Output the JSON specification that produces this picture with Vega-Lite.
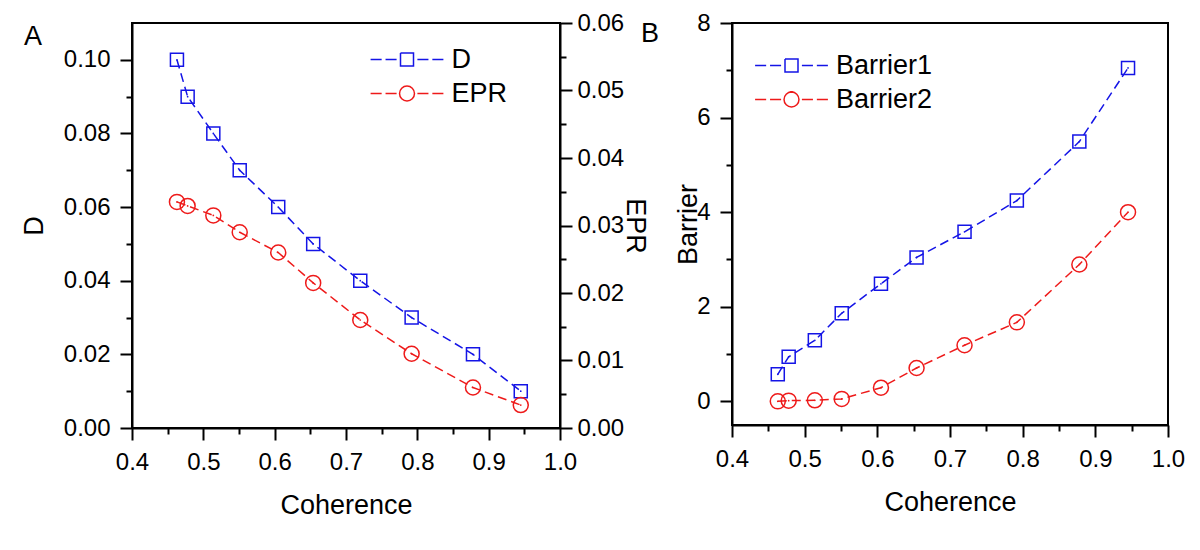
{
  "$schema": "https://vega.github.io/schema/vega-lite/v6.json",
  "padding": {"left": 19, "top": 10, "right": 5, "bottom": 5},
  "bounds": "flush",
  "spacing": 172,
  "config": {
    "font": "Liberation Sans",
    "view": {"stroke": "black", "strokeWidth": 2},
    "axis": {
      "grid": false, "domainColor": "black", "domainWidth": 2, "tickColor": "black", "tickWidth": 2,
      "labelFontSize": 24, "labelColor": "black", "labelFont": "Liberation Sans", "labelFlush": false, "labelOverlap": false,
      "titleFontSize": 27, "titleFontWeight": "normal", "titleColor": "black", "titleFont": "Liberation Sans"
    },
    "legend": {
      "labelFontSize": 27, "labelColor": "black", "labelFont": "Liberation Sans", "symbolStrokeWidth": 1.5,
      "rowPadding": 6, "labelOffset": 31, "symbolSize": 169, "symbolFillColor": "transparent"
    },
    "title": {"font": "Liberation Sans", "fontSize": 27, "fontWeight": "normal", "color": "black"}
  },
  "data": {"values": [
    {"c": 0.463, "series": "D", "value": 0.10},
    {"c": 0.478, "series": "D", "value": 0.09},
    {"c": 0.514, "series": "D", "value": 0.08},
    {"c": 0.551, "series": "D", "value": 0.07},
    {"c": 0.605, "series": "D", "value": 0.06},
    {"c": 0.654, "series": "D", "value": 0.05},
    {"c": 0.720, "series": "D", "value": 0.04},
    {"c": 0.792, "series": "D", "value": 0.03},
    {"c": 0.878, "series": "D", "value": 0.02},
    {"c": 0.945, "series": "D", "value": 0.01},
    {"c": 0.463, "series": "EPR", "value": 0.0335},
    {"c": 0.478, "series": "EPR", "value": 0.0329},
    {"c": 0.514, "series": "EPR", "value": 0.0315},
    {"c": 0.551, "series": "EPR", "value": 0.0290},
    {"c": 0.605, "series": "EPR", "value": 0.0260},
    {"c": 0.654, "series": "EPR", "value": 0.0215},
    {"c": 0.720, "series": "EPR", "value": 0.0160},
    {"c": 0.792, "series": "EPR", "value": 0.0110},
    {"c": 0.878, "series": "EPR", "value": 0.0060},
    {"c": 0.945, "series": "EPR", "value": 0.0034},
    {"c": 0.463, "series": "Barrier1", "value": 0.571},
    {"c": 0.478, "series": "Barrier1", "value": 0.942},
    {"c": 0.514, "series": "Barrier1", "value": 1.291},
    {"c": 0.551, "series": "Barrier1", "value": 1.863},
    {"c": 0.605, "series": "Barrier1", "value": 2.486},
    {"c": 0.654, "series": "Barrier1", "value": 3.043},
    {"c": 0.720, "series": "Barrier1", "value": 3.584},
    {"c": 0.792, "series": "Barrier1", "value": 4.245},
    {"c": 0.878, "series": "Barrier1", "value": 5.492},
    {"c": 0.945, "series": "Barrier1", "value": 7.05},
    {"c": 0.463, "series": "Barrier2", "value": 0.0},
    {"c": 0.478, "series": "Barrier2", "value": 0.015},
    {"c": 0.514, "series": "Barrier2", "value": 0.022},
    {"c": 0.551, "series": "Barrier2", "value": 0.052},
    {"c": 0.605, "series": "Barrier2", "value": 0.289},
    {"c": 0.654, "series": "Barrier2", "value": 0.705},
    {"c": 0.720, "series": "Barrier2", "value": 1.187},
    {"c": 0.792, "series": "Barrier2", "value": 1.67},
    {"c": 0.878, "series": "Barrier2", "value": 2.894},
    {"c": 0.945, "series": "Barrier2", "value": 4.0}
  ]},
  "resolve": {"scale": {"color": "independent", "fill": "independent"}, "legend": {"color": "independent"}},
  "hconcat": [
    {
      "width": 428, "height": 405,
      "title": {"text": "A", "anchor": "start", "frame": "group", "dx": -108, "dy": 40, "offset": 0},
      "encoding": {
        "x": {"field": "c", "type": "quantitative", "scale": {"domain": [0.4, 1.0], "nice": false, "zero": false},
          "axis": {"title": "Coherence", "values": [0.4,0.45,0.5,0.55,0.6,0.65,0.7,0.75,0.8,0.85,0.9,0.95,1.0],
            "labelExpr": "abs(datum.value*10-round(datum.value*10))<0.01 ? format(datum.value,'.1f') : ''",
            "tickSize": {"condition": {"test": "abs(datum.value*10-round(datum.value*10))<0.01", "value": 12}, "value": 6},
            "labelPadding": 10, "titlePadding": 18}}
      },
      "layer": [
        {
          "transform": [{"filter": "datum.series === 'D'"}],
          "encoding": {
            "y": {"field": "value", "type": "quantitative", "scale": {"domain": [0, 0.11], "nice": false},
              "axis": {"title": "D", "orient": "left", "values": [0,0.01,0.02,0.03,0.04,0.05,0.06,0.07,0.08,0.09,0.10],
                "labelExpr": "abs(datum.value*50-round(datum.value*50))<0.01 ? format(datum.value,'.2f') : ''",
                "tickSize": {"condition": {"test": "abs(datum.value*50-round(datum.value*50))<0.01", "value": 12}, "value": 6},
                "labelPadding": 10, "titlePadding": 15}}
          },
          "layer": [
            {"mark": {"type": "line", "strokeDash": [9, 5], "strokeWidth": 1.5},
             "encoding": {"color": {"field": "series", "type": "nominal", "scale": {"domain": ["D", "EPR"], "range": ["#1414e6", "#ee1a1a"]},
               "legend": {"orient": "none", "legendX": 261.5, "legendY": 23, "title": null,
                 "encode": {"symbols": {"update": {
                   "shape": {"signal": "datum.value === 'D' ? 'M-5.6,0H-3.9M-3.3,0H-1.6M-1,-1H1V1H-1V-1V1H1V-1H-1M1.6,0H3.3M3.9,0H5.6' : 'M-5.6,0H-3.9M-3.3,0H-1.6M-1.15,0A1.15,1.15 0 1,1 1.15,0A1.15,1.15 0 1,1 -1.15,0A1.15,1.15 0 1,0 1.15,0A1.15,1.15 0 1,0 -1.15,0M1.6,0H3.3M3.9,0H5.6'"},
                   "fill": {"value": "transparent"}, "strokeWidth": {"value": 1.5}, "opacity": {"value": 1}, "strokeDash": {"value": []}}}}}}}},
            {"mark": {"type": "point", "filled": false, "strokeWidth": 1.5, "opacity": 1, "shape": "square", "size": 169},
             "encoding": {"color": {"field": "series", "type": "nominal", "scale": {"domain": ["D", "EPR"], "range": ["#1414e6", "#ee1a1a"]},
               "legend": {"orient": "none", "legendX": 261.5, "legendY": 23, "title": null,
                 "encode": {"symbols": {"update": {
                   "shape": {"signal": "datum.value === 'D' ? 'M-5.6,0H-3.9M-3.3,0H-1.6M-1,-1H1V1H-1V-1V1H1V-1H-1M1.6,0H3.3M3.9,0H5.6' : 'M-5.6,0H-3.9M-3.3,0H-1.6M-1.15,0A1.15,1.15 0 1,1 1.15,0A1.15,1.15 0 1,1 -1.15,0A1.15,1.15 0 1,0 1.15,0A1.15,1.15 0 1,0 -1.15,0M1.6,0H3.3M3.9,0H5.6'"},
                   "fill": {"value": "transparent"}, "strokeWidth": {"value": 1.5}, "opacity": {"value": 1}, "strokeDash": {"value": []}}}}}}}},
            {"mark": {"type": "point", "filled": true, "size": 3, "opacity": 1, "strokeWidth": 0},
             "encoding": {"fill": {"field": "series", "type": "nominal", "scale": {"domain": ["D", "EPR"], "range": ["#1414e6", "#ee1a1a"]}, "legend": null}}}
          ]
        },
        {
          "transform": [{"filter": "datum.series === 'EPR'"}],
          "encoding": {
            "y": {"field": "value", "type": "quantitative", "scale": {"domain": [0, 0.06], "nice": false},
              "axis": {"title": "EPR", "orient": "right", "values": [0,0.005,0.01,0.015,0.02,0.025,0.03,0.035,0.04,0.045,0.05,0.055,0.06],
                "labelExpr": "abs(datum.value*100-round(datum.value*100))<0.01 ? format(datum.value,'.2f') : ''",
                "tickSize": {"condition": {"test": "abs(datum.value*100-round(datum.value*100))<0.01", "value": 12}, "value": 6},
                "labelPadding": 5, "titlePadding": -3}}
          },
          "layer": [
            {"mark": {"type": "line", "strokeDash": [9, 5], "strokeWidth": 1.5},
             "encoding": {"color": {"field": "series", "type": "nominal", "scale": {"domain": ["D", "EPR"], "range": ["#1414e6", "#ee1a1a"]},
               "legend": {"orient": "none", "legendX": 261.5, "legendY": 23, "title": null,
                 "encode": {"symbols": {"update": {
                   "shape": {"signal": "datum.value === 'D' ? 'M-5.6,0H-3.9M-3.3,0H-1.6M-1,-1H1V1H-1V-1V1H1V-1H-1M1.6,0H3.3M3.9,0H5.6' : 'M-5.6,0H-3.9M-3.3,0H-1.6M-1.15,0A1.15,1.15 0 1,1 1.15,0A1.15,1.15 0 1,1 -1.15,0A1.15,1.15 0 1,0 1.15,0A1.15,1.15 0 1,0 -1.15,0M1.6,0H3.3M3.9,0H5.6'"},
                   "fill": {"value": "transparent"}, "strokeWidth": {"value": 1.5}, "opacity": {"value": 1}, "strokeDash": {"value": []}}}}}}}},
            {"mark": {"type": "point", "filled": false, "strokeWidth": 1.5, "opacity": 1, "shape": "circle", "size": 225},
             "encoding": {"color": {"field": "series", "type": "nominal", "scale": {"domain": ["D", "EPR"], "range": ["#1414e6", "#ee1a1a"]},
               "legend": {"orient": "none", "legendX": 261.5, "legendY": 23, "title": null,
                 "encode": {"symbols": {"update": {
                   "shape": {"signal": "datum.value === 'D' ? 'M-5.6,0H-3.9M-3.3,0H-1.6M-1,-1H1V1H-1V-1V1H1V-1H-1M1.6,0H3.3M3.9,0H5.6' : 'M-5.6,0H-3.9M-3.3,0H-1.6M-1.15,0A1.15,1.15 0 1,1 1.15,0A1.15,1.15 0 1,1 -1.15,0A1.15,1.15 0 1,0 1.15,0A1.15,1.15 0 1,0 -1.15,0M1.6,0H3.3M3.9,0H5.6'"},
                   "fill": {"value": "transparent"}, "strokeWidth": {"value": 1.5}, "opacity": {"value": 1}, "strokeDash": {"value": []}}}}}}}},
            {"mark": {"type": "point", "filled": true, "size": 3, "opacity": 1, "strokeWidth": 0},
             "encoding": {"fill": {"field": "series", "type": "nominal", "scale": {"domain": ["D", "EPR"], "range": ["#1414e6", "#ee1a1a"]}, "legend": null}}}
          ]
        }
      ],
      "resolve": {"scale": {"y": "independent"}}
    },
    {
      "width": 436, "height": 402,
      "title": {"text": "B", "anchor": "start", "frame": "group", "dx": -91, "dy": 37, "offset": 0},
      "transform": [{"filter": "datum.series === 'Barrier1' || datum.series === 'Barrier2'"}],
      "encoding": {
        "x": {"field": "c", "type": "quantitative", "scale": {"domain": [0.4, 1.0], "nice": false, "zero": false},
          "axis": {"title": "Coherence", "values": [0.4,0.45,0.5,0.55,0.6,0.65,0.7,0.75,0.8,0.85,0.9,0.95,1.0],
            "labelExpr": "abs(datum.value*10-round(datum.value*10))<0.01 ? format(datum.value,'.1f') : ''",
            "tickSize": {"condition": {"test": "abs(datum.value*10-round(datum.value*10))<0.01", "value": 12}, "value": 6},
            "labelPadding": 10, "titlePadding": 18}},
        "y": {"field": "value", "type": "quantitative", "scale": {"domain": [-0.5, 8], "nice": false, "zero": false},
          "axis": {"title": "Barrier", "values": [0,1,2,3,4,5,6,7,8],
            "labelExpr": "datum.value % 2 === 0 ? format(datum.value,'d') : ''",
            "tickSize": {"condition": {"test": "datum.value % 2 === 0", "value": 12}, "value": 6},
            "labelPadding": 10, "titlePadding": -6}}
      },
      "layer": [
        {"mark": {"type": "line", "strokeDash": [9, 5], "strokeWidth": 1.5},
         "encoding": {"color": {"field": "series", "type": "nominal", "scale": {"domain": ["Barrier1", "Barrier2"], "range": ["#1414e6", "#ee1a1a"]},
           "legend": {"orient": "none", "legendX": 46, "legendY": 29, "title": null,
             "encode": {"symbols": {"update": {
               "shape": {"signal": "datum.value === 'Barrier1' ? 'M-5.6,0H-3.9M-3.3,0H-1.6M-1,-1H1V1H-1V-1V1H1V-1H-1M1.6,0H3.3M3.9,0H5.6' : 'M-5.6,0H-3.9M-3.3,0H-1.6M-1.15,0A1.15,1.15 0 1,1 1.15,0A1.15,1.15 0 1,1 -1.15,0A1.15,1.15 0 1,0 1.15,0A1.15,1.15 0 1,0 -1.15,0M1.6,0H3.3M3.9,0H5.6'"},
               "fill": {"value": "transparent"}, "strokeWidth": {"value": 1.5}, "opacity": {"value": 1}, "strokeDash": {"value": []}}}}}}}},
        {"transform": [{"filter": "datum.series === 'Barrier1'"}],
         "mark": {"type": "point", "filled": false, "strokeWidth": 1.5, "opacity": 1, "shape": "square", "size": 169},
         "encoding": {"color": {"field": "series", "type": "nominal", "scale": {"domain": ["Barrier1", "Barrier2"], "range": ["#1414e6", "#ee1a1a"]},
           "legend": {"orient": "none", "legendX": 46, "legendY": 29, "title": null,
             "encode": {"symbols": {"update": {
               "shape": {"signal": "datum.value === 'Barrier1' ? 'M-5.6,0H-3.9M-3.3,0H-1.6M-1,-1H1V1H-1V-1V1H1V-1H-1M1.6,0H3.3M3.9,0H5.6' : 'M-5.6,0H-3.9M-3.3,0H-1.6M-1.15,0A1.15,1.15 0 1,1 1.15,0A1.15,1.15 0 1,1 -1.15,0A1.15,1.15 0 1,0 1.15,0A1.15,1.15 0 1,0 -1.15,0M1.6,0H3.3M3.9,0H5.6'"},
               "fill": {"value": "transparent"}, "strokeWidth": {"value": 1.5}, "opacity": {"value": 1}, "strokeDash": {"value": []}}}}}}}},
        {"transform": [{"filter": "datum.series === 'Barrier2'"}],
         "mark": {"type": "point", "filled": false, "strokeWidth": 1.5, "opacity": 1, "shape": "circle", "size": 225},
         "encoding": {"color": {"field": "series", "type": "nominal", "scale": {"domain": ["Barrier1", "Barrier2"], "range": ["#1414e6", "#ee1a1a"]},
           "legend": {"orient": "none", "legendX": 46, "legendY": 29, "title": null,
             "encode": {"symbols": {"update": {
               "shape": {"signal": "datum.value === 'Barrier1' ? 'M-5.6,0H-3.9M-3.3,0H-1.6M-1,-1H1V1H-1V-1V1H1V-1H-1M1.6,0H3.3M3.9,0H5.6' : 'M-5.6,0H-3.9M-3.3,0H-1.6M-1.15,0A1.15,1.15 0 1,1 1.15,0A1.15,1.15 0 1,1 -1.15,0A1.15,1.15 0 1,0 1.15,0A1.15,1.15 0 1,0 -1.15,0M1.6,0H3.3M3.9,0H5.6'"},
               "fill": {"value": "transparent"}, "strokeWidth": {"value": 1.5}, "opacity": {"value": 1}, "strokeDash": {"value": []}}}}}}}},
        {"mark": {"type": "point", "filled": true, "size": 3, "opacity": 1, "strokeWidth": 0},
         "encoding": {"fill": {"field": "series", "type": "nominal", "scale": {"domain": ["Barrier1", "Barrier2"], "range": ["#1414e6", "#ee1a1a"]}, "legend": null}}}
      ]
    }
  ]
}
